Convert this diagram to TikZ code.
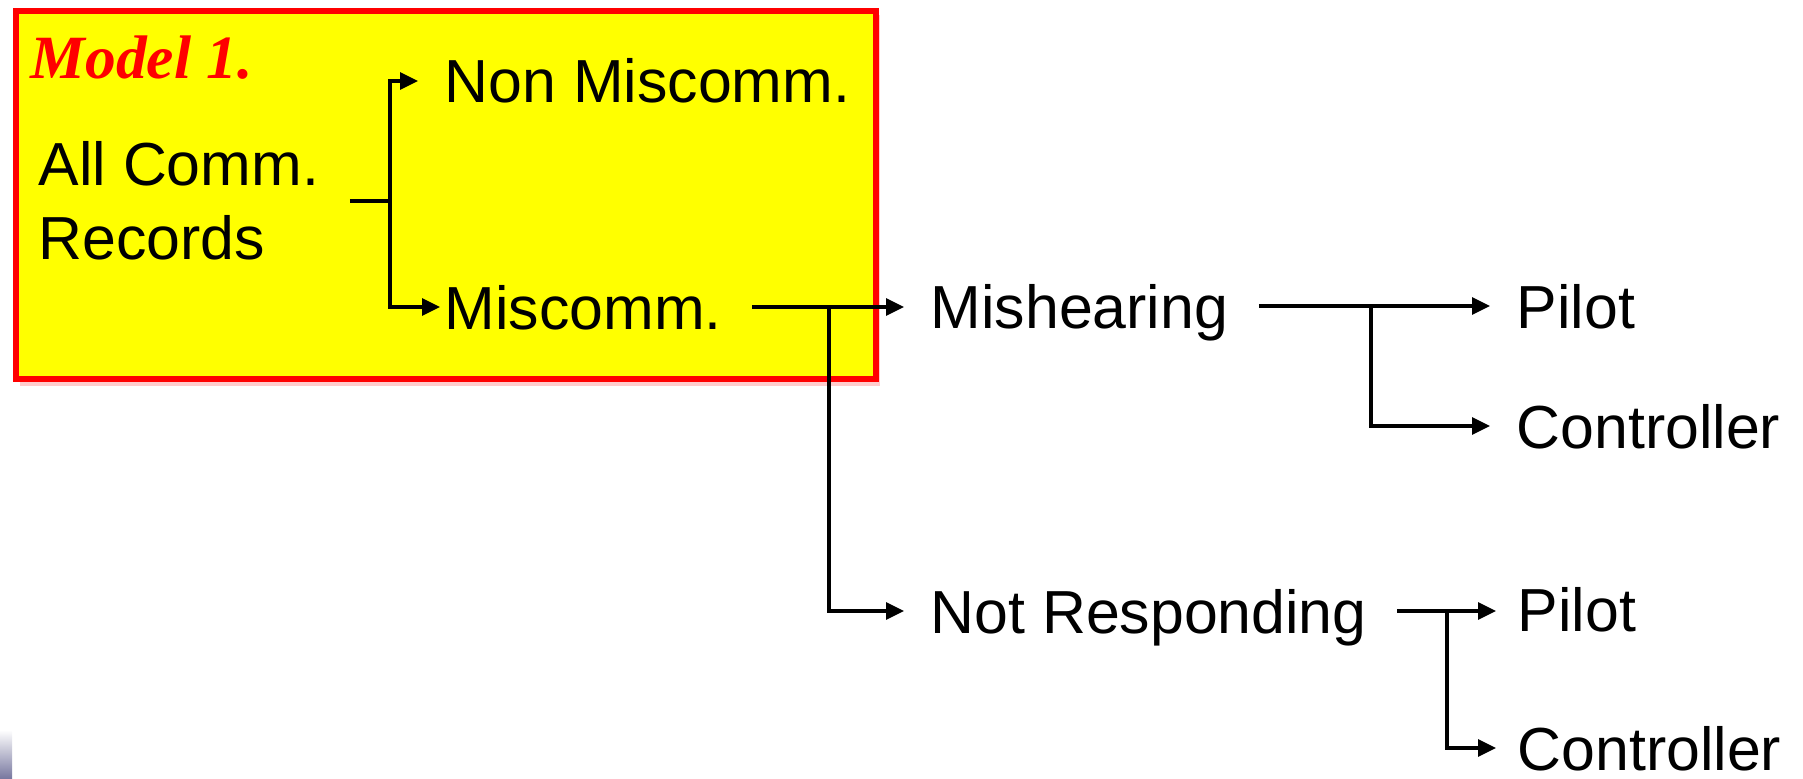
\documentclass[tikz,border=0pt]{standalone}
\usepackage{fontspec}
\setmainfont{Liberation Sans}
\newfontfamily\modelfont{Liberation Serif}
\usetikzlibrary{arrows.meta}

\definecolor{boxyellow}{RGB}{255,255,0}
\definecolor{boxred}{RGB}{255,0,0}

\tikzset{
  lbl/.style={anchor=base west, inner sep=0pt, text depth=0pt, font=\fontsize{17.3}{21}\selectfont},
  link/.style={-{Triangle[length=1.8mm,width=1.7mm]}, line width=0.9pt, shorten >=2.6mm},
  from/.style={shorten <=3mm},
}

\begin{document}
\begin{tikzpicture}[x=0.1mm,y=-0.1mm]
  \useasboundingbox (0,0) rectangle (1803,779);
  % Model 1 frame
  \fill[boxred!20] (20,15) rectangle (880,386);
  \draw[boxred, fill=boxyellow, line width=1.7pt] (16,11) rectangle (876,379);
  \shade[top color=white, bottom color={rgb,255:red,118;green,118;blue,158}] (0,730) rectangle (12,779);

  % Labels
  \node[lbl, text=boxred, font=\modelfont\bfseries\itshape\fontsize{17.5}{21}\selectfont] (model) at (30,79) {Model 1.};
  \node[anchor=west, inner sep=0pt, align=left, font=\fontsize{17.3}{21}\selectfont] (rec) at (38,201) {All Comm.\\Records};
  \node[lbl] (non) at (444,103) {Non Miscomm.};
  \node[lbl] (mis) at (444,329) {Miscomm.};
  \node[lbl] (mh) at (930,328) {Mishearing};
  \node[lbl] (nr) at (930,633) {Not Responding};
  \node[lbl] (p1) at (1516,328) {Pilot};
  \node[lbl] (c1) at (1516,448) {Controller};
  \node[lbl] (p2) at (1517,631) {Pilot};
  \node[lbl] (c2) at (1517,770) {Controller};

  % Branch points
  \coordinate (j1) at (390,0 |- rec.east);
  \coordinate (j2) at (829,0 |- mis.east);
  \coordinate (j3) at (1371,0 |- mh.east);
  \coordinate (j4) at (1447,0 |- nr.east);

  % Connectors
  \draw[link,from] (rec.east) -- (j1) |- (non.west);
  \draw[link,shorten >=0.4mm] (j1) |- (mis.west);
  \draw[link,from] (mis.east) -- (mis.east -| mh.west);
  \draw[link] (j2) |- (nr.west);
  \draw[link,from] (mh.east) -- (mh.east -| p1.west);
  \draw[link] (j3) |- (c1.west);
  \draw[link,from,shorten >=2.1mm] (nr.east) -- (nr.east -| p2.west);
  \draw[link,shorten >=2.1mm] (j4) |- (c2.west);
\end{tikzpicture}
\end{document}
